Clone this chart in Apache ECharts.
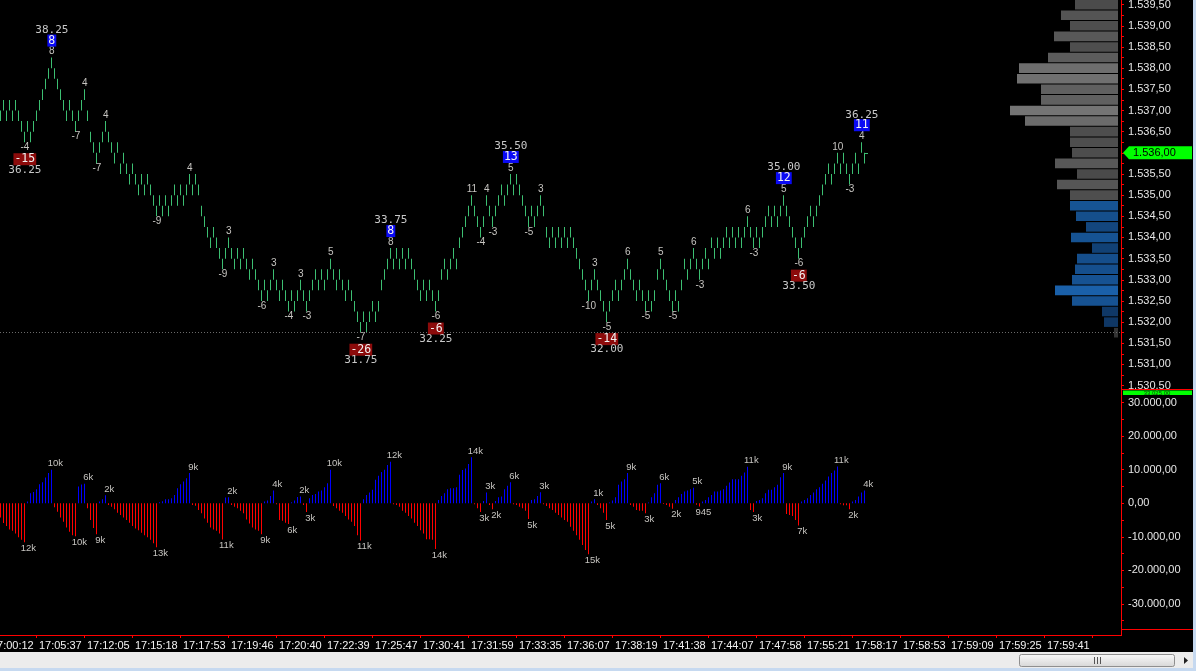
<!DOCTYPE html>
<html><head><meta charset="utf-8">
<script src="https://cdn.jsdelivr.net/npm/echarts@6/dist/echarts.min.js"></script>
<style>html,body{margin:0;padding:0;background:#000;overflow:hidden}#c{width:1196px;height:671px}</style>
</head><body><div id="c"></div>
<script>
// ---------- DATA ----------
// low of each 1-tick range bar (high = low + TICK)
const priceLows = [
1536.75,1537.00,1536.75,1537.00,1536.75,1537.00,1536.75,1536.50,1536.25,1536.50,
1536.25,1536.50,1536.75,1537.00,1537.25,1537.50,1537.75,1538.00,1537.75,1537.50,
1537.25,1537.00,1536.75,1537.00,1536.75,1536.50,1536.75,1537.00,1537.25,1536.75,
1536.25,1536.00,1535.75,1536.00,1536.25,1536.50,1536.25,1536.00,1535.75,1536.00,
1535.50,1535.75,1535.50,1535.25,1535.50,1535.25,1535.00,1535.25,1535.00,1535.25,
1535.00,1534.75,1534.50,1534.75,1534.50,1534.75,1534.50,1534.75,1535.00,1534.75,
1535.00,1534.75,1535.00,1535.25,1535.00,1535.25,1535.00,1534.50,1534.25,1534.00,
1533.75,1534.00,1533.75,1533.50,1533.25,1533.50,1533.75,1533.50,1533.25,1533.50,
1533.25,1533.50,1533.25,1533.00,1533.25,1533.00,1532.75,1532.50,1532.75,1532.50,
1532.75,1533.00,1532.75,1532.50,1532.75,1532.50,1532.25,1532.50,1532.25,1532.50,
1532.75,1532.50,1532.25,1532.50,1532.75,1533.00,1532.75,1533.00,1532.75,1533.00,
1533.25,1533.00,1532.75,1533.00,1532.75,1532.50,1532.75,1532.50,1532.25,1532.00,
1531.75,1532.00,1531.75,1532.00,1532.25,1532.00,1532.25,1532.75,1533.00,1533.25,
1533.50,1533.25,1533.50,1533.25,1533.50,1533.25,1533.50,1533.25,1533.00,1532.75,
1532.50,1532.75,1532.50,1532.75,1532.50,1532.25,1532.50,1533.00,1533.25,1533.00,
1533.25,1533.50,1533.25,1533.75,1534.00,1534.25,1534.50,1534.75,1534.50,1534.25,
1534.00,1534.25,1534.75,1534.50,1534.25,1534.50,1534.75,1535.00,1534.75,1535.00,
1535.25,1535.00,1535.25,1535.00,1534.75,1534.50,1534.25,1534.50,1534.25,1534.50,
1534.75,1534.50,1534.00,1533.75,1534.00,1533.75,1534.00,1533.75,1534.00,1533.75,
1534.00,1533.75,1533.50,1533.25,1533.00,1532.75,1532.50,1532.75,1533.00,1532.75,
1532.50,1532.25,1532.00,1532.25,1532.50,1532.75,1532.50,1532.75,1533.00,1533.25,
1533.00,1532.75,1532.50,1532.75,1532.50,1532.25,1532.50,1532.25,1532.50,1533.00,
1533.25,1533.00,1532.75,1532.50,1532.25,1532.50,1532.25,1532.75,1533.25,1533.00,
1533.25,1533.50,1533.25,1533.00,1533.25,1533.50,1533.25,1533.75,1533.50,1533.75,
1533.50,1533.75,1534.00,1533.75,1534.00,1533.75,1534.00,1533.75,1534.00,1534.25,
1534.00,1533.75,1534.00,1533.75,1534.00,1534.25,1534.50,1534.25,1534.50,1534.25,
1534.50,1534.75,1534.50,1534.25,1534.00,1533.75,1533.50,1533.75,1534.00,1534.25,
1534.50,1534.25,1534.50,1534.75,1535.00,1535.25,1535.50,1535.25,1535.50,1535.75,
1535.50,1535.75,1535.50,1535.25,1535.50,1535.75,1535.50,1536.00,1535.75
];
// cumulative wave volume per bar (blue +, red -)
const deltaVolumes = [
-4200,-5900,-6800,-7800,-8200,-9000,-10100,-10900,-11600,
500,3000,3400,4200,5700,6300,7700,9000,10000,
-1200,-2500,-4200,-5500,-7200,-8500,-9500,-9800,
5000,5600,5800,
-1500,-5000,-7400,-9200,
500,1200,2400,
-500,-1000,-1800,-2800,-3500,-4200,-5000,-5800,-6800,-7500,-8000,-8800,-9500,-10100,-10900,-11900,-13100,
300,600,1200,1200,1500,2500,4500,5700,6500,7500,9000,
-500,-700,-2000,-3000,-4500,-5800,-7200,-7800,-8200,-9000,-10800,
1700,1800,
-500,-1000,-1500,-2200,-3000,-4800,-6000,-7200,-7800,-8200,-9200,
500,800,2200,3800,
-300,-5000,-5200,-5800,-6200,
300,800,1900,2000,
-500,-2600,
1500,2500,2800,3500,3800,4800,6000,10000,
-800,-1500,-2200,-2800,-3800,-4800,-5500,-6800,-9500,-11100,
1200,2500,3200,4000,7000,8200,9300,10000,11400,12400,
-300,-500,-1000,-2200,-2800,-3800,-4500,-5800,-6800,-8000,-9000,-10700,-10700,-10900,-13600,
1000,2200,3000,4200,4500,4500,4800,8500,9900,10400,11700,13700,
-300,-1500,-2600,
700,3200,
-500,-1800,
700,1800,2000,4200,5200,6300,
-300,-500,-1000,-1500,-2200,-4700,
1000,1200,2200,3300,
-300,-800,-1500,-2000,-2800,-3500,-4200,-5000,-5500,-7000,-8200,-9500,-10900,-12400,-13900,-15200,
500,1200,
-500,-1500,-2800,-5000,
200,800,1800,5500,6500,7200,9000,
-500,-1000,-2000,-2200,-2200,-3000,
200,1800,3000,5500,6000,
-200,-500,-1000,-1600,
1000,1800,2800,3500,3800,4200,4600,
-400,-945,
500,1000,1800,2500,3500,3500,3800,4200,5200,6200,7200,7200,7200,8200,9200,10900,
-2000,-2600,
700,1000,1500,3000,4000,4000,4800,5500,7800,9000,
-3200,-3500,-3800,-5000,-6600,
500,1000,1500,2500,3200,4200,4800,5800,6800,8000,9000,9800,11000,
-300,-600,-600,-1800,
500,1000,2000,3200,3800
];
// swing pivots (bar index) and swing size in ticks
const swingBars  = [8,17,25,28,32,35,52,63,74,76,87,91,96,100,102,110,120,130,145,157,160,162,164,170,176,180,196,198,202,209,215,220,224,231,233,249,251,261,266,279,283,287];
const swingTicks = [-4,8,-7,4,-7,4,-9,4,-9,3,-6,3,-4,3,-3,5,-7,8,-6,11,-4,4,-3,5,-5,3,-10,3,-5,6,-5,5,-5,6,-3,6,-3,5,-6,10,-3,4];
// major swing pivots and their tick counts
const majorBars   = [8,17,120,130,145,170,202,261,266,287];
const majorCounts = [-15,8,-26,8,-6,13,-14,12,-6,11];
// volume profile
const profilePrices  = [1539.50,1539.25,1539.00,1538.75,1538.50,1538.25,1538.00,1537.75,1537.50,1537.25,1537.00,1536.75,1536.50,1536.25,1536.00,1535.75,1535.50,1535.25,1535.00,1534.75,1534.50,1534.25,1534.00,1533.75,1533.50,1533.25,1533.00,1532.75,1532.50,1532.25,1532.00,1531.75];
const profileVolumes = [1075,1425,1200,1600,1200,1750,2475,2525,1925,1925,2700,2325,1200,1200,1150,1575,1025,1525,1200,1200,1050,800,1175,650,1025,1075,1150,1575,1150,400,350,100];
const valueAreaLow = 1532.00, valueAreaHigh = 1534.75;
// axis tick labels
const priceAxisLabels  = [1530.5,1531,1531.5,1532,1532.5,1533,1533.5,1534,1534.5,1535,1535.5,1536,1536.5,1537,1537.5,1538,1538.5,1539,1539.5];
const volumeAxisLabels = [-30000,-20000,-10000,0,10000,20000,30000];
const timeLabels = ['17:00:12','17:05:37','17:12:05','17:15:18','17:17:53','17:19:46','17:20:40','17:22:39','17:25:47','17:30:41','17:31:59','17:33:35','17:36:07','17:38:19','17:41:38','17:44:07','17:47:58','17:55:21','17:58:17','17:58:53','17:59:09','17:59:25','17:59:41'];
const volumeBoxValue = 33025;

// ---------- LAYOUT / STYLE ----------
const TICK = 0.25;
const AXIS_X = 1121;
const X_MIN = -0.11, X_MAX = X_MIN + AXIS_X / 3;
const PRICE_MIN = 1530.42, PRICE_MAX = 1539.61;
const VOL_MIN = -37470, VOL_MAX = 33770;
const PROFILE_MAX = AXIS_X * 25;
const TIME_FIRST = 4, TIME_STEP = 16;
const BAR_COLOR = '#3cbf72';
const LABEL_COLOR = '#c6c4c0';
const AXIS_TEXT = '#e6e6e6';
const SANS = 'Liberation Sans';
const MONO = 'DejaVu Sans Mono';

function fmtNum(v){
  const neg = v < 0;
  let [ip, fp] = Math.abs(v).toFixed(2).split('.');
  ip = ip.replace(/\B(?=(\d{3})+(?!\d))/g, '.');
  return (neg ? '-' : '') + ip + ',' + fp;
}
function fmtVol(v){
  const a = Math.abs(v);
  return a >= 1000 ? Math.round(a / 1000) + 'k' : String(a);
}
function profileColor(v, p){
  const f = v / Math.max(...profileVolumes);
  if (p >= valueAreaLow && p <= valueAreaHigh) {
    const t = Math.max(0, Math.min(1, (f - 0.1) / 0.5));
    const r = Math.round(14 + t * 12), g = Math.round(52 + t * 46), b = Math.round(96 + t * 76);
    return `rgb(${r},${g},${b})`;
  }
  const l = Math.round(0x30 + f * 0x44);
  return `rgb(${l},${l},${l})`;
}

const priceTicks = [];
priceAxisLabels.forEach(v => { priceTicks.push(v); priceTicks.push(v + TICK); });
const volumeTicks = [];
volumeAxisLabels.forEach(v => { volumeTicks.push(v); volumeTicks.push(v - 5000); });
const timeLabelPos = timeLabels.map((_, k) => TIME_FIRST + k * TIME_STEP);
const timeTickPos = timeLabels.map((_, k) => TIME_FIRST + TIME_STEP / 2 + k * TIME_STEP)
  .filter(v => v > X_MIN && v < X_MAX);

const sessionLow = Math.min(...priceLows);
const volumeLabelData = [];
deltaVolumes.forEach((v, i) => {
  const n = deltaVolumes[i + 1];
  if (n === undefined || Math.sign(n) !== Math.sign(v)) volumeLabelData.push([i, v]);
});

const chart = echarts.init(document.getElementById('c'), null, {renderer: 'canvas', width: 1196, height: 671});

const redLine = {show: true, onZero: false, lineStyle: {color: '#ff0000', width: 1}};
const option = {
  backgroundColor: '#000000',
  animation: false,
  grid: [
    {left: 0, top: 0, width: AXIS_X, height: 389, containLabel: false, outerBoundsMode: 'none'},
    {left: 0, top: 390, width: AXIS_X, height: 239, containLabel: false, outerBoundsMode: 'none'}
  ],
  xAxis: [
    {gridIndex: 0, type: 'value', min: X_MIN, max: X_MAX, show: false},
    {gridIndex: 0, type: 'value', min: 0, max: PROFILE_MAX, inverse: true, show: false},
    {gridIndex: 1, type: 'value', min: X_MIN, max: X_MAX, position: 'bottom', offset: 6,
      axisLine: redLine,
      axisTick: {show: true, customValues: timeTickPos, length: 3, lineStyle: {color: '#ff0000'}},
      axisLabel: {customValues: timeLabelPos, color: '#f2f2f2', fontSize: 11, fontFamily: SANS, margin: 5,
        formatter: v => timeLabels[Math.round((v - TIME_FIRST) / TIME_STEP)] || ''},
      splitLine: {show: false}}
  ],
  yAxis: [
    {gridIndex: 0, type: 'value', position: 'right', min: PRICE_MIN, max: PRICE_MAX,
      axisLine: redLine,
      axisTick: {show: true, customValues: priceTicks, length: 3, lineStyle: {color: '#ff0000'}},
      axisLabel: {customValues: priceAxisLabels, formatter: v => fmtNum(v), color: AXIS_TEXT, fontSize: 11, fontFamily: SANS, margin: 7},
      splitLine: {show: false}},
    {gridIndex: 1, type: 'value', position: 'right', min: VOL_MIN, max: VOL_MAX,
      axisLine: redLine,
      axisTick: {show: true, customValues: volumeTicks, length: 3, lineStyle: {color: '#ff0000'}},
      axisLabel: {customValues: volumeAxisLabels, formatter: v => fmtNum(v), color: AXIS_TEXT, fontSize: 11, fontFamily: SANS, margin: 7},
      splitLine: {show: false}}
  ],
  series: [
    { // volume profile
      type: 'custom', xAxisIndex: 1, yAxisIndex: 0, silent: true, z: 1,
      data: profilePrices.map((p, k) => [profileVolumes[k], p]),
      renderItem(params, api){
        const v = api.value(0), p = api.value(1);
        const a = api.coord([v, p + TICK / 2]);
        const b = api.coord([0, p - TICK / 2]);
        return {type: 'rect', shape: {x: Math.round(a[0] - 3), y: a[1] + 0.5, width: Math.round(b[0] - a[0]), height: b[1] - a[1] - 1},
          style: {fill: profileColor(v, p)}};
      }
    },
    { // price bars
      type: 'custom', xAxisIndex: 0, yAxisIndex: 0, silent: true, z: 3,
      data: priceLows.map((l, i) => [i, l]),
      renderItem(params, api){
        const i = api.value(0), low = api.value(1);
        const pl = api.coord([i, low]), ph = api.coord([i, low + TICK]);
        const x = Math.floor(pl[0]);
        const children = [{type: 'rect', shape: {x: x, y: ph[1], width: 1, height: pl[1] - ph[1]}, style: {fill: BAR_COLOR}}];
        if (i === priceLows.length - 1) children.push({type: 'rect', shape: {x: x + 1, y: Math.round(ph[1]), width: 3, height: 1}, style: {fill: BAR_COLOR}});
        return {type: 'group', children};
      },
      markLine: {silent: true, symbol: 'none', label: {show: false},
        lineStyle: {color: '#6a6a6a', type: [1, 2], width: 1},
        data: [{yAxis: sessionLow}]}
    },
    { // swing size labels
      type: 'custom', xAxisIndex: 0, yAxisIndex: 0, silent: true, z: 4,
      data: swingBars.map((b, k) => [b, swingTicks[k] > 0 ? priceLows[b] + TICK : priceLows[b], swingTicks[k]]),
      renderItem(params, api){
        const c = api.coord([api.value(0), api.value(1)]);
        const t = api.value(2);
        return {type: 'text', x: c[0] + 0.5, y: c[1] + (t > 0 ? -6 : 5),
          style: {text: String(t), fill: LABEL_COLOR, fontSize: 10, fontFamily: SANS, align: 'center', verticalAlign: 'middle'}};
      }
    },
    { // major swing labels
      type: 'custom', xAxisIndex: 0, yAxisIndex: 0, silent: true, z: 5,
      data: majorBars.map((b, k) => [b, majorCounts[k] > 0 ? priceLows[b] + TICK : priceLows[b], majorCounts[k]]),
      renderItem(params, api){
        const price = api.value(1), cnt = api.value(2);
        const c = api.coord([api.value(0), price]);
        const up = cnt > 0, s = up ? -1 : 1;
        return {type: 'group', children: [
          {type: 'text', x: c[0] + 0.5, y: c[1] + s * 17,
            style: {text: String(cnt), fill: '#f2f2f2', fontSize: 11.5, fontFamily: MONO, align: 'center', verticalAlign: 'middle',
              backgroundColor: up ? '#0a0af5' : '#8c0b0b', padding: [1, 1, 0, 1], lineHeight: 11}},
          {type: 'text', x: c[0] + 0.5, y: c[1] + s * 27.5,
            style: {text: (price - 1500).toFixed(2), fill: '#c8c8c8', fontSize: 11, fontFamily: MONO, align: 'center', verticalAlign: 'middle'}}
        ]};
      }
    },
    { // wave volume histogram
      type: 'custom', xAxisIndex: 2, yAxisIndex: 1, silent: true, z: 3,
      data: deltaVolumes.map((v, i) => [i, v]),
      renderItem(params, api){
        const i = api.value(0), v = api.value(1);
        const p0 = api.coord([i, 0]), p1 = api.coord([i, v]);
        const x = Math.floor(p0[0]);
        return {type: 'rect', shape: {x: x, y: Math.min(p0[1], p1[1]), width: 1, height: Math.abs(p1[1] - p0[1])},
          style: {fill: v >= 0 ? '#0000ff' : '#ff0000'}};
      }
    },
    { // wave volume labels
      type: 'custom', xAxisIndex: 2, yAxisIndex: 1, silent: true, z: 4,
      data: volumeLabelData,
      renderItem(params, api){
        const v = api.value(1);
        const c = api.coord([api.value(0), v]);
        return {type: 'text', x: c[0] + 4, y: c[1] + (v >= 0 ? -6 : 6),
          style: {text: fmtVol(v), fill: LABEL_COLOR, fontSize: 9.5, fontFamily: SANS, align: 'center', verticalAlign: 'middle'}};
      }
    }
  ]
};
chart.setOption(option);

// decorations and current-price marker
const lastClose = priceLows[priceLows.length - 1] + TICK;
const yC = chart.convertToPixel({yAxisIndex: 0}, lastClose);
const yBox = chart.convertToPixel({yAxisIndex: 1}, volumeBoxValue);
chart.setOption({graphic: [
  {type: 'polygon', shape: {points: [[AXIS_X + 2, yC], [AXIS_X + 8, yC - 6.5], [1192, yC - 6.5], [1192, yC + 6.5], [AXIS_X + 8, yC + 6.5]]},
    style: {fill: '#00ff00'}, z: 10},
  {type: 'text', x: AXIS_X + 12, y: yC, style: {text: fmtNum(lastClose), fill: '#000', fontSize: 11, fontFamily: SANS, verticalAlign: 'middle'}, z: 11},
  {type: 'line', shape: {x1: AXIS_X, y1: 389.5, x2: 1196, y2: 389.5}, style: {stroke: '#ff0000', lineWidth: 1}, z: 10},
  {type: 'rect', shape: {x: AXIS_X + 2, y: 390.5, width: 69, height: 4.5}, style: {fill: '#00ff00'}, z: 10},
  {type: 'text', x: AXIS_X + 36, y: Math.max(yBox, 392) + 1, style: {text: fmtNum(volumeBoxValue), fill: '#0a3a0a', fontSize: 6, fontFamily: SANS, align: 'center', verticalAlign: 'middle'}, z: 11},
  {type: 'line', shape: {x1: AXIS_X, y1: 629.5, x2: 1193, y2: 629.5}, style: {stroke: '#ff0000', lineWidth: 1}, z: 10},
  {type: 'line', shape: {x1: AXIS_X + 0.5, y1: 629, x2: AXIS_X + 0.5, y2: 636}, style: {stroke: '#ff0000', lineWidth: 1}, z: 10},
  {type: 'rect', shape: {x: 0, y: 652, width: 1196, height: 16}, style: {fill: '#ececec'}, z: 10},
  {type: 'rect', shape: {x: 0, y: 668, width: 1196, height: 3}, style: {fill: '#c6d9f0'}, z: 10},
  {type: 'rect', shape: {x: 1193, y: 0, width: 3, height: 671}, style: {fill: '#c6d9f0'}, z: 10},
  {type: 'rect', shape: {x: 1019.5, y: 654.5, width: 155, height: 12, r: 2},
    style: {fill: new echarts.graphic.LinearGradient(0, 0, 0, 1, [{offset: 0, color: '#fbfbfb'}, {offset: 1, color: '#d6d6d6'}]), stroke: '#8f8f8f', lineWidth: 1}, z: 11},
  {type: 'line', shape: {x1: 1094.5, y1: 657, x2: 1094.5, y2: 664}, style: {stroke: '#555', lineWidth: 1}, z: 12},
  {type: 'line', shape: {x1: 1097.5, y1: 657, x2: 1097.5, y2: 664}, style: {stroke: '#555', lineWidth: 1}, z: 12},
  {type: 'line', shape: {x1: 1100.5, y1: 657, x2: 1100.5, y2: 664}, style: {stroke: '#555', lineWidth: 1}, z: 12},
  {type: 'polygon', shape: {points: [[1184, 657], [1188, 660.5], [1184, 664]]}, style: {fill: '#222'}, z: 11}
]});
</script>
</body></html>
